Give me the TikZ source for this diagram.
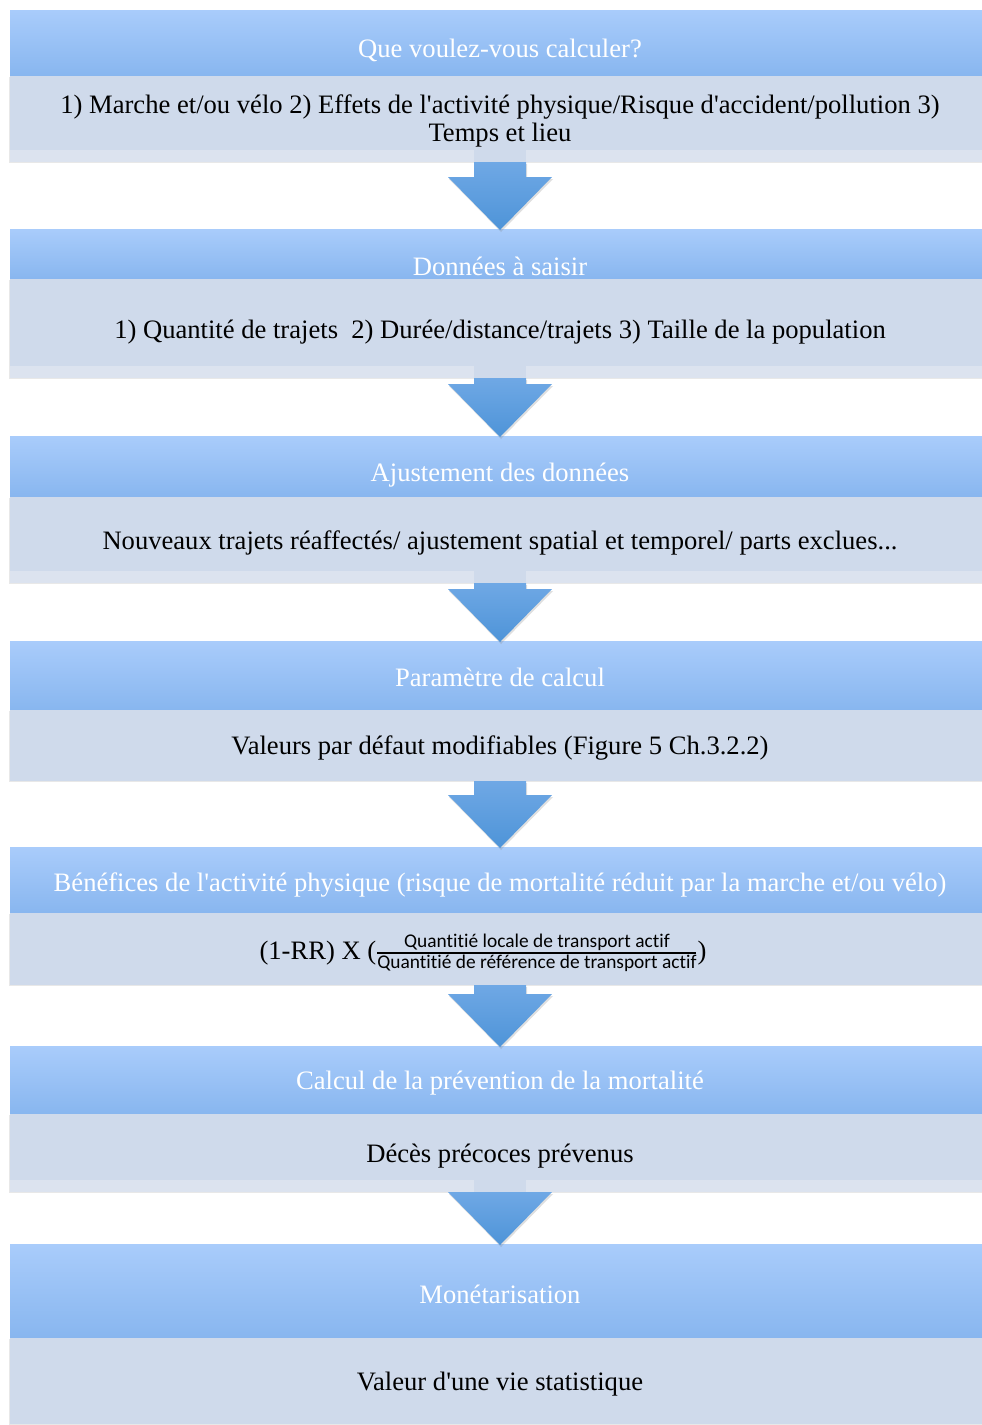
\documentclass[tikz,border=0pt]{standalone}
\usepackage{fontspec}
\usepackage{amsmath}
\setmainfont{Liberation Serif}[Ligatures=TeXOff]
\newfontfamily\calibrifont{Carlito}[Ligatures=CommonOff]
\usetikzlibrary{positioning,calc,shadows}

\definecolor{headtop}{HTML}{A9CCFB}
\definecolor{headbot}{HTML}{88B6EF}
\definecolor{bodyfill}{HTML}{CFDAEB}
\definecolor{bandfill}{HTML}{DCE3EF}
\definecolor{arrowtop}{HTML}{6FA8E5}
\definecolor{arrowbot}{HTML}{4E94D8}

\newcommand{\bigtext}{\fontsize{26.6}{28}\selectfont}
\newcommand{\fractext}{\calibrifont\fontsize{19.4}{20}\selectfont}
\newcommand{\ti}{t\kern0pt i}

% block arrow from a body box down to the next header
\newcommand{\flowarrow}[2]{%
  \path[blockarrow] let \p1=(#1.south), \p2=(#2.north) in
    (\x1-26pt,\y1) -- (\x1+26pt,\y1) -- (\x1+26pt,\y2+52pt) -- (\x1+52pt,\y2+52pt)
    -- (\x1,\y2-1pt) -- (\x1-52pt,\y2+52pt) -- (\x1-26pt,\y2+52pt) -- cycle;
}
% lighter strip at the foot of a body box
\newcommand{\fadeband}[1]{%
  \fill[bandfill] ($(#1.south west)+(0,12)$) rectangle (#1.south east);
  \fill[bodyfill] ($(#1.south)+(-26,12)$) rectangle ($(#1.south)+(26,0)$);
}

\begin{document}
\begin{tikzpicture}[x=1pt, y=1pt,
  head/.style={minimum width=980pt, inner sep=0pt, outer sep=0pt, top color=headtop, bottom color=headbot, text=white, font=\bigtext},
  body/.style={minimum width=980pt, inner sep=0pt, outer sep=0pt, fill=bodyfill, font=\bigtext, align=center,
    drop shadow={shadow xshift=-1.5pt, shadow yshift=-1pt, opacity=.18}},
  blockarrow/.style={top color=arrowtop, bottom color=arrowbot,
    drop shadow={shadow xshift=1pt, shadow yshift=-2pt, opacity=.25}}
]
\useasboundingbox (0,0) rectangle (982,-1425);
\clip (0,0) rectangle (982,-1425);

\node[head, anchor=north, text height=47pt, text depth=19pt] (head1) at (500,-10) {Que voulez-vous calculer?};
\node[body, below=0pt of head1, minimum height=86pt] (body1) {\rule{0pt}{22pt}1) Marche et/ou vélo 2) Effets de l'activité physique/Risque d'accident/pollution 3)\\Temps et lieu};

\node[head, below=67pt of body1, text height=46pt, text depth=4pt] (head2) {Données à saisir};
\node[body, below=0pt of head2, text height=59pt, text depth=40pt] (body2) {1) Quantité de trajets\ \ 2) Durée/distance/trajets 3) Taille de la population};

\node[head, below=58pt of body2, text height=45pt, text depth=16pt] (head3) {Ajustement des données};
\node[body, below=0pt of head3, text height=52pt, text depth=34pt] (body3) {Nouveaux trajets réaffectés/ ajustement spatial et temporel/ parts exclues...};

\node[head, below=58pt of body3, text height=45.5pt, text depth=23.5pt] (head4) {Paramètre de calcul};
\node[body, below=0pt of head4, text height=44pt, text depth=27pt] (body4) {Valeurs par défaut modifiables (Figure 5 Ch.3.2.2)};

\node[head, below=66pt of body4, text height=44pt, text depth=22pt] (head5) {Bénéfices de l'activité physique (risque de mortalité réduit par la marche et/ou vélo)};
\node[body, below=0pt of head5, text height=46pt, text depth=26pt] (body5) {(1-RR) X ($\genfrac{}{}{1.6pt}{}{\mbox{\fractext Quan\ti tié locale de transport ac\ti f}}{\mbox{\fractext Quan\ti tié de référence de transport ac\ti f}}$)\hspace*{34pt}};

\node[head, below=61pt of body5, text height=43pt, text depth=25pt] (head6) {Calcul de la prévention de la mortalité};
\node[body, below=0pt of head6, text height=48pt, text depth=30pt] (body6) {Décès précoces prévenus};

\node[head, below=52pt of body6, text height=59pt, text depth=35pt] (head7) {Monétarisation};
\node[body, below=0pt of head7, text height=52pt, text depth=34pt] (body7) {Valeur d'une vie statistique};

\fadeband{body1}
\fadeband{body2}
\fadeband{body3}
\fadeband{body6}

\flowarrow{body1}{head2}
\flowarrow{body2}{head3}
\flowarrow{body3}{head4}
\flowarrow{body4}{head5}
\flowarrow{body5}{head6}
\flowarrow{body6}{head7}

\end{tikzpicture}
\end{document}
